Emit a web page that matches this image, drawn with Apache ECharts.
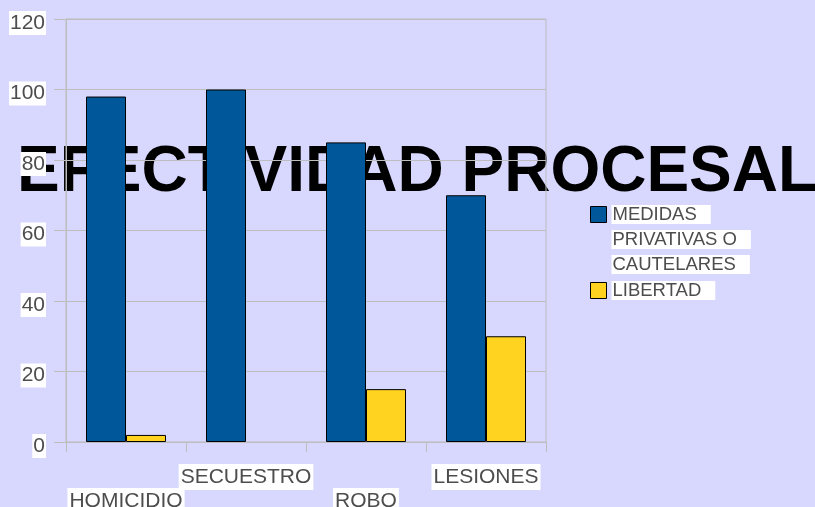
<!DOCTYPE html>
<html>
<head>
<meta charset="utf-8">
<script src="https://cdn.jsdelivr.net/npm/echarts@6/dist/echarts.min.js"></script>
<style>
html,body{margin:0;padding:0;background:#d8d8ff;}
#c{width:815px;height:507px;}
</style>
</head>
<body>
<div id="c"></div>
<script>
const titleText = 'EFECTIVIDAD PROCESAL';
const categories = ['HOMICIDIO', 'SECUESTRO', 'ROBO', 'LESIONES'];
const seriesNames = ['MEDIDAS PRIVATIVAS O CAUTELARES', 'LIBERTAD'];
const legendLines = [['MEDIDAS', 'PRIVATIVAS O', 'CAUTELARES'], ['LIBERTAD']];
const medidas = [98, 100, 85, 70];
const libertad = [2, null, 15, 30]; // SECUESTRO: no LIBERTAD bar drawn
const yMin = 0, yMax = 120, yStep = 20;

const FONT = 'Liberation Sans, Arial, sans-serif';
const TXT = '#4d4d4d';
const GRIDC = '#bdbdbd';

const chart = echarts.init(document.getElementById('c'), null, {renderer: 'canvas'});

function legendFmt(name) {
  const lines = legendLines[seriesNames.indexOf(name)];
  const pad = lines.length > 1 ? new Array(lines.length - 1).fill('').join('\n') + '\n' : '';
  return pad + lines.map(l => '{w|' + l + '}').join('\n');
}

const xLabelBase = {
  fontFamily: FONT, fontSize: 21, color: TXT,
  backgroundColor: '#fff', padding: [2, 2, 2, 2], lineHeight: 22
};

chart.setOption({
  backgroundColor: '#d8d8ff',
  animation: false,
  title: {
    text: titleText,
    left: 17, top: 141, padding: 0, z: -1,
    textStyle: {fontFamily: FONT, fontSize: 64, fontWeight: 'bold', color: '#000'}
  },
  legend: {
    orient: 'vertical', left: 590, top: 152, padding: 0,
    itemWidth: 16, itemHeight: 16, itemGap: 1,
    icon: 'rect',
    selectedMode: false,
    formatter: legendFmt,
    textStyle: {
      fontFamily: FONT, fontSize: 18.5, color: TXT, lineHeight: 25,
      rich: {w: {fontFamily: FONT, fontSize: 18.5, color: TXT, lineHeight: 25, backgroundColor: '#fff', padding: [0, 14, 0, 1]}}
    },
    itemStyle: {borderColor: '#000', borderWidth: 1}
  },
  grid: {left: 66, right: 269, top: 19, bottom: 65, containLabel: false, outerBoundsMode: 'none',
    show: true, borderColor: GRIDC, borderWidth: 1, backgroundColor: 'transparent'},
  xAxis: [{
    type: 'category', data: categories, position: 'bottom',
    axisLine: {lineStyle: {color: GRIDC, width: 1}},
    axisTick: {show: true, length: 10, alignWithLabel: false, interval: 0, lineStyle: {color: GRIDC}},
    axisLabel: Object.assign({interval: (i) => i % 2 === 1, margin: 22}, xLabelBase),
    splitLine: {show: false}
  }, {
    type: 'category', data: categories, position: 'bottom', offset: 0,
    axisLine: {show: false}, axisTick: {show: false},
    axisLabel: Object.assign({interval: (i) => i % 2 === 0, margin: 46}, xLabelBase),
    splitLine: {show: false}
  }],
  yAxis: {
    type: 'value', min: yMin, max: yMax, interval: yStep,
    axisLine: {show: true, lineStyle: {color: GRIDC}},
    axisTick: {show: true, length: 12, lineStyle: {color: GRIDC}},
    splitLine: {show: true, lineStyle: {color: GRIDC, width: 1}},
    axisLabel: {
      margin: 20,
      formatter: (v) => '{s| }{a|' + v + '}',
      rich: {
        s: {fontSize: 1, lineHeight: 32},
        a: {fontFamily: FONT, fontSize: 21, color: TXT, backgroundColor: '#fff', padding: [0, 1, 0, 1], height: 24, lineHeight: 24, verticalAlign: 'bottom'}
      }
    }
  },
  series: [{
    name: seriesNames[0], type: 'bar', data: medidas, barWidth: 40, barGap: '0%',
    itemStyle: {color: '#00589b', borderColor: '#000', borderWidth: 1}
  }, {
    name: seriesNames[1], type: 'bar', data: libertad, barWidth: 40, barGap: '0%',
    itemStyle: {color: '#ffd320', borderColor: '#000', borderWidth: 1}
  }]
});
</script>
</body>
</html>
